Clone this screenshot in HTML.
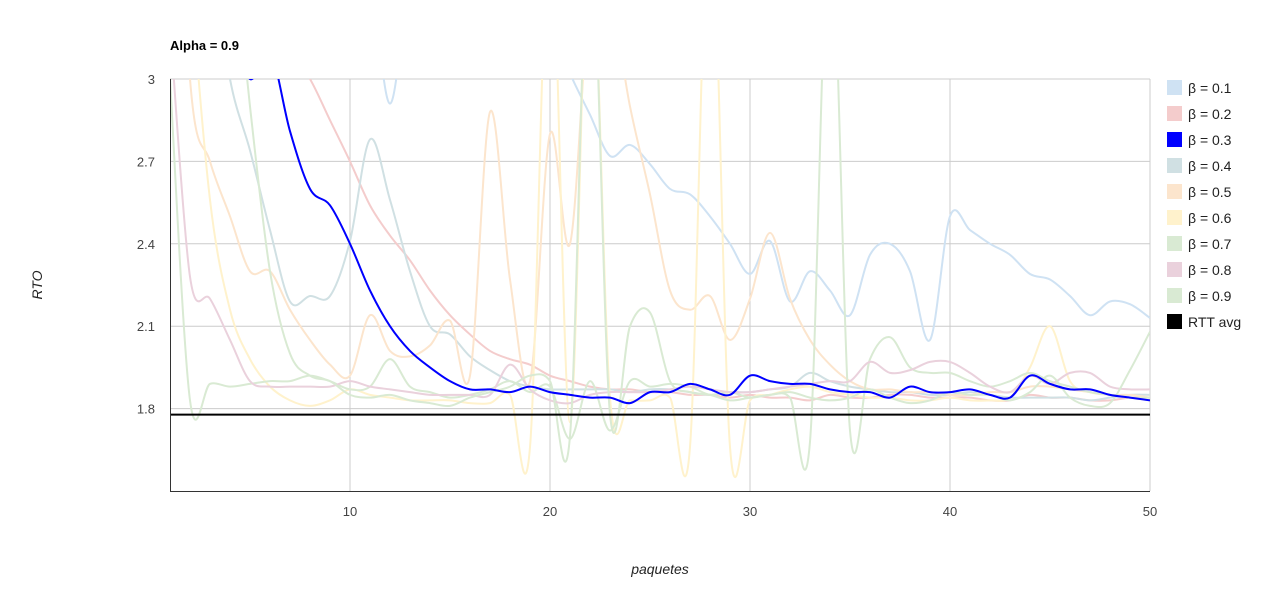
<!DOCTYPE html>
<html><head><meta charset="utf-8"><style>
body{margin:0;background:#fff}
svg{font-family:"Liberation Sans",Arial,sans-serif}
</style></head><body>
<svg width="1280" height="600">
<defs><clipPath id="clip"><rect x="170" y="79" width="980" height="412"/></clipPath></defs>
<text x="170" y="50" font-size="13" font-weight="bold">Alpha = 0.9</text>
<g id="grid"></g>
<g id="series" clip-path="url(#clip)"></g>
<g id="axes"></g>
<g id="legend"></g>
<text x="42" y="285" font-size="14" font-style="italic" text-anchor="middle" transform="rotate(-90 42 285)" fill="#222">RTO</text>
<text x="660" y="574" font-size="14" font-style="italic" text-anchor="middle" fill="#222">paquetes</text>
</svg>
<script>
const xTicks=[10,20,30,40,50];
const yTicks=[1.8,2.1,2.4,2.7,3];
const yTickLabels=["1.8","2.1","2.4","2.7","3"];
const seriesNames=["β = 0.1","β = 0.2","β = 0.3","β = 0.4","β = 0.5","β = 0.6","β = 0.7","β = 0.8","β = 0.9","RTT avg"];
const b01=[3.6,3.6,3.6,3.6,3.6,3.6,3.6,3.6,3.6,3.6,3.4,2.91,3.4,3.6,3.6,3.6,3.6,3.6,3.4,3.2,3.02,2.87,2.72,2.76,2.69,2.6,2.58,2.5,2.4,2.29,2.41,2.19,2.3,2.23,2.14,2.36,2.4,2.3,2.05,2.5,2.45,2.4,2.36,2.29,2.27,2.21,2.14,2.19,2.18,2.13];
const b02=[5,4.5,4,3.7,3.4,3.2,3.1,3.0,2.85,2.7,2.54,2.43,2.34,2.23,2.14,2.07,2.01,1.98,1.96,1.92,1.9,1.88,1.87,1.87,1.86,1.86,1.85,1.85,1.84,1.85,1.84,1.84,1.83,1.85,1.84,1.84,1.85,1.85,1.84,1.84,1.84,1.83,1.83,1.85,1.84,1.84,1.83,1.83,1.84,1.84];
const b03=[4.5,4.0,3.6,3.2,3.0,3.1,2.81,2.6,2.54,2.4,2.23,2.1,2.01,1.95,1.9,1.87,1.87,1.86,1.88,1.86,1.85,1.84,1.84,1.82,1.86,1.86,1.89,1.87,1.85,1.92,1.9,1.89,1.89,1.87,1.86,1.86,1.84,1.88,1.86,1.86,1.87,1.85,1.84,1.92,1.89,1.87,1.87,1.85,1.84,1.83];
const b04=[4.5,4,3.5,3.0,2.74,2.45,2.19,2.21,2.21,2.41,2.78,2.56,2.3,2.1,2.07,1.99,1.94,1.9,1.88,1.87,1.87,1.87,1.87,1.86,1.87,1.87,1.86,1.85,1.86,1.86,1.87,1.88,1.93,1.9,1.88,1.87,1.86,1.86,1.85,1.85,1.86,1.85,1.84,1.84,1.84,1.84,1.83,1.84,1.85,1.85];
const b05=[4.5,3.0,2.7,2.5,2.3,2.3,2.16,2.05,1.96,1.92,2.14,2.01,1.99,2.03,2.12,1.92,2.88,2.27,1.9,2.8,2.4,3.3,3.3,2.9,2.58,2.23,2.16,2.21,2.05,2.2,2.44,2.2,2.05,1.96,1.9,1.87,1.87,1.86,1.86,1.85,1.85,1.86,1.86,1.88,1.88,1.87,1.86,1.85,1.85,1.84];
const b06=[4.5,3.4,2.56,2.16,1.98,1.88,1.83,1.81,1.83,1.87,1.85,1.84,1.83,1.83,1.83,1.82,1.82,1.85,1.66,3.6,1.75,3.6,1.84,1.83,1.83,1.84,1.66,3.7,1.66,1.83,1.85,1.87,1.88,1.86,1.85,1.84,1.84,1.83,1.83,1.84,1.83,1.83,1.84,1.95,2.1,1.9,1.86,1.85,1.84,1.83];
const b07=[3.0,1.83,1.89,1.88,1.89,1.9,1.9,1.92,1.9,1.87,1.88,1.98,1.88,1.86,1.84,1.85,1.87,1.9,1.86,1.88,1.69,1.9,1.72,1.9,1.88,1.89,1.88,1.85,1.86,1.84,1.85,1.84,1.68,3.6,1.72,1.98,2.06,1.95,1.93,1.93,1.9,1.88,1.9,1.93,1.9,1.88,1.86,1.85,1.84,1.84];
const b08=[3.2,2.28,2.2,2.05,1.9,1.88,1.88,1.88,1.88,1.9,1.88,1.87,1.86,1.85,1.85,1.85,1.85,1.96,1.87,1.83,1.82,1.85,1.86,1.86,1.86,1.87,1.88,1.87,1.86,1.86,1.87,1.88,1.89,1.9,1.9,1.97,1.93,1.94,1.97,1.97,1.93,1.88,1.86,1.92,1.89,1.93,1.93,1.88,1.87,1.87];
const b09=[4.2,4.2,4.2,3.6,2.9,2.3,2.0,1.92,1.9,1.85,1.84,1.85,1.83,1.82,1.81,1.84,1.86,1.88,1.92,1.9,1.7,3.6,1.78,2.1,2.15,1.9,1.86,1.85,1.83,1.84,1.85,1.86,1.84,1.83,1.84,1.87,1.84,1.82,1.83,1.86,1.85,1.85,1.83,1.86,1.92,1.84,1.81,1.82,1.94,2.08];
const rttAvg=Array(50).fill(1.778);
const colors=["#cfe2f3","#f4cccc","#0000ff","#d0e0e3","#fce5cd","#fff2cc","#d9ead3","#ead1dc","#d9ead3","#000000"];
const seriesData=[b01,b02,b03,b04,b05,b06,b07,b08,b09,rttAvg];
const NS="http://www.w3.org/2000/svg";
const X=v=>170+(v-1)*980/49;
const Y=v=>491-(v-1.5)*412/1.5;
function mk(t,a,p){const e=document.createElementNS(NS,t);for(const k in a)e.setAttribute(k,a[k]);p.appendChild(e);return e;}
const grid=document.getElementById('grid'),axes=document.getElementById('axes'),sg=document.getElementById('series'),lg=document.getElementById('legend');
yTicks.forEach((t,i)=>{
 const l=mk('line',{x1:170,x2:1150,y1:Y(t),y2:Y(t),stroke:'#ccc'},grid);
 
 
 const tx=mk('text',{x:155,y:Y(t)+5,'text-anchor':'end','font-size':13,fill:'#444'},axes);
 tx.textContent=yTickLabels[i];
 
 
});
xTicks.forEach(t=>{
 const l=mk('line',{x1:X(t),x2:X(t),y1:79,y2:491,stroke:'#ccc'},grid);
 
 
 const tx=mk('text',{x:X(t),y:516,'text-anchor':'middle','font-size':13,fill:'#444'},axes);
 tx.textContent=t;
 
 
});
const ax1=mk('line',{x1:170.5,x2:170.5,y1:79,y2:491,stroke:'#333'},axes);


const ax2=mk('line',{x1:170,x2:1150,y1:491.5,y2:491.5,stroke:'#333'},axes);


function pathFor(arr){
 const p=arr.map((v,i)=>[X(i+1),Y(v)]);
 let d='M'+p[0][0]+','+p[0][1];
 for(let i=0;i<p.length-1;i++){
  const p0=p[i-1]||p[i],p1=p[i],p2=p[i+1],p3=p[i+2]||p[i+1];
  const c1=[p1[0]+(p2[0]-p0[0])/6,p1[1]+(p2[1]-p0[1])/6];
  const c2=[p2[0]-(p3[0]-p1[0])/6,p2[1]-(p3[1]-p1[1])/6];
  d+=` C${c1[0]},${c1[1]} ${c2[0]},${c2[1]} ${p2[0]},${p2[1]}`;
 }
 return d;
}
const order=[0,1,3,4,5,6,7,8,2,9];
order.forEach(i=>{
 const e=mk('path',{d:pathFor(seriesData[i]),fill:'none',stroke:colors[i],'stroke-width':2},sg);
 
 
});
seriesNames.forEach((n,i)=>{
 const y=80+i*26;
 const r=mk('rect',{x:1167,y:y,width:15,height:15,fill:colors[i]},lg);
 
 
 const t=mk('text',{x:1188,y:y+13,'font-size':14,fill:'#222'},lg);
 t.textContent=n;
 
 
});
</script>
</body></html>
